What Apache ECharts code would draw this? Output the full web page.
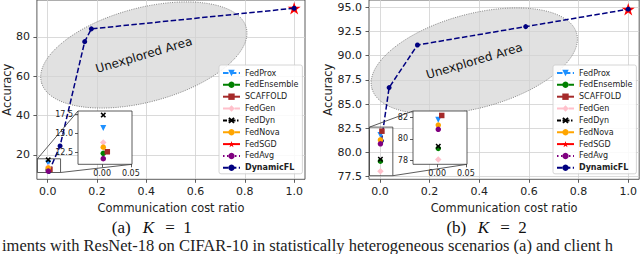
<!DOCTYPE html>
<html><head><meta charset="utf-8">
<script src="https://cdn.jsdelivr.net/npm/echarts@6/dist/echarts.min.js"></script>
<style>html,body{margin:0;padding:0;background:#fff;overflow:hidden}#c{width:640px;height:254px}</style>
</head><body><div id="c"></div>
<script>
// ---------- data ----------
const seriesNames = ['FedProx','FedEnsemble','SCAFFOLD','FedGen','FedDyn','FedNova','FedSGD','FedAvg','DynamicFL'];
const ticksX = [0, 0.2, 0.4, 0.6, 0.8, 1.0];
const ticksYA = [20, 40, 60, 80];
const ticksYB = [77.5, 80, 82.5, 85, 87.5, 90, 92.5, 95];
const insetTicksX = [0, 0.05];
const insetTicksYA = [12.5, 15, 17.5];
const insetTicksYB = [78, 80, 82];
// (a) K = 1
const fedProxA     = [[0.002, 15.7]];
const fedEnsembleA = [[0.002, 12.4]];
const scaffoldA    = [[0.009, 12.6]];
const fedGenA      = [[0.002, 13.8]];
const fedDynA      = [[0.002, 17.4]];
const fedNovaA     = [[0.002, 13.2]];
const fedSGDA      = [[1.0, 94.6]];
const fedAvgA      = [[0.002, 11.7]];
const dynamicFLA   = [[0.005, 11.5], [0.05, 24.5], [0.15, 77.6], [0.177, 84.1], [1.0, 94.6]];
// (b) K = 2
const fedProxB     = [[0.002, 81.8]];
const fedEnsembleB = [[0.002, 79.1]];
const scaffoldB    = [[0.008, 82.2]];
const fedGenB      = [[0.002, 78.05]];
const fedDynB      = [[0.002, 79.3]];
const fedNovaB     = [[0.002, 81.3]];
const fedSGDB      = [[1.0, 94.8]];
const fedAvgB      = [[0.002, 80.9]];
const dynamicFLB   = [[0.006, 81.2], [0.037, 86.7], [0.151, 91.1], [0.587, 93.0], [1.0, 94.8]];
// axis limits
const mainXRange = [-0.044, 1.044];
const yRangeA = [7.5, 98.8];
const yRangeB = [77.23, 95.75];
const insetXRange = [-0.042, 0.052];
const insetYRangeA = [10.96, 17.94];
const insetYRangeB = [77.6, 82.62];
// annotation anchors (data coords)
const ellipseCenterA = [0.39, 70.8];
const ellipseCenterB = [0.38, 89.45];
const areaLabel = 'Unexplored Area';
const xName = 'Communication cost ratio';
const yName = 'Accuracy';
const bottomText = 'iments with ResNet-18 on CIFAR-10 in statistically heterogeneous scenarios (a) and client h';

const dataA = {FedProx:fedProxA, FedEnsemble:fedEnsembleA, SCAFFOLD:scaffoldA, FedGen:fedGenA, FedDyn:fedDynA, FedNova:fedNovaA, FedSGD:fedSGDA, FedAvg:fedAvgA, DynamicFL:dynamicFLA};
const dataB = {FedProx:fedProxB, FedEnsemble:fedEnsembleB, SCAFFOLD:scaffoldB, FedGen:fedGenB, FedDyn:fedDynB, FedNova:fedNovaB, FedSGD:fedSGDB, FedAvg:fedAvgB, DynamicFL:dynamicFLB};

// ---------- styles ----------
const FONT = 'DejaVu Sans';
const X_SYM = 'path://M0,20 L20,0 L50,30 L80,0 L100,20 L70,50 L100,80 L80,100 L50,70 L20,100 L0,80 L30,50 Z';
const STAR_SYM = 'path://M100,0 L122.45,69.1 L195.1,69.1 L136.3,111.8 L158.8,180.9 L100,138.2 L41.2,180.9 L63.7,111.8 L4.9,69.1 L77.55,69.1 Z';
const look = {
  FedProx:     {color:'#1E90FF', symbol:'triangle', rotate:180, size:6,   type:[5.5,2.4]},
  FedEnsemble: {color:'#008000', symbol:'circle',   size:5.5, type:[6,2,1.5,2]},
  SCAFFOLD:    {color:'#A52A2A', symbol:'rect',     size:5.5, type:'solid'},
  FedGen:      {color:'#FFC0CB', symbol:'diamond',  size:6.5, type:[6,2,1.5,2]},
  FedDyn:      {color:'#000000', symbol:X_SYM,      size:5.5, type:[4,1.5,1.5,1.5]},
  FedNova:     {color:'#FFA500', symbol:'circle',   size:5.5, type:[6,2,1.5,2]},
  FedSGD:      {color:'#FF0000', symbol:STAR_SYM,   size:13,  type:'solid'},
  FedAvg:      {color:'#800080', symbol:'circle',   size:5.5, type:[1.5,2.5]},
  DynamicFL:   {color:'#000080', symbol:'circle',   size:5,   type:[5.5,2.4]}
};

function mk(name, data, gi, z){
  const s = look[name];
  return {type:'line', name, data, xAxisIndex:gi, yAxisIndex:gi, z,
    symbol:s.symbol, symbolSize:s.size, symbolRotate:s.rotate||0, symbolKeepAspect:true,
    showAllSymbol:true, silent:true, animation:false, clip:true,
    lineStyle:{color:s.color, width:1.5, type:s.type},
    itemStyle:{color:s.color, borderWidth:0},
    emphasis:{disabled:true}};
}

function mainX(gi){
  return {gridIndex:gi, type:'value', min:mainXRange[0], max:mainXRange[1],
    name:xName, nameLocation:'middle', nameGap:19.3,
    nameTextStyle:{fontFamily:FONT, fontSize:11.4, color:'#222'},
    axisLine:{show:false, onZero:false},
    axisTick:{show:true, inside:false, length:3.5, lineStyle:{color:'#333', width:0.8}, customValues:ticksX},
    axisLabel:{customValues:ticksX, formatter:v=>v.toFixed(1), fontFamily:FONT, fontSize:11, color:'#222', margin:7},
    splitLine:{show:true, lineStyle:{color:'#d0d0d0', width:0.8}}};
}
function mainY(gi, range, ticks, dec, gap){
  return {gridIndex:gi, type:'value', min:range[0], max:range[1],
    name:yName, nameLocation:'middle', nameGap:gap,
    nameTextStyle:{fontFamily:FONT, fontSize:11.4, color:'#222'},
    axisLine:{show:false, onZero:false},
    axisTick:{show:true, inside:false, length:3.5, lineStyle:{color:'#333', width:0.8}, customValues:ticks},
    axisLabel:{customValues:ticks, formatter:v=>v.toFixed(dec), fontFamily:FONT, fontSize:11, color:'#222', margin:7},
    splitLine:{show:true, lineStyle:{color:'#d0d0d0', width:0.8}}};
}
function insetAxis(gi, range, ticks, dec){
  return {gridIndex:gi, type:'value', min:range[0], max:range[1], z:6,
    axisLine:{show:false, onZero:false},
    axisTick:{show:true, inside:false, length:3, lineStyle:{color:'#333', width:0.8}, customValues:ticks},
    axisLabel:{customValues:ticks, formatter:v=>v.toFixed(dec), fontFamily:FONT, fontSize:8, color:'#222', margin:5},
    splitLine:{show:false}};
}

const legendData = seriesNames.map(n => n === 'DynamicFL' ? {name:n, textStyle:{fontWeight:'bold'}} : {name:n});
function legend(left){
  return {data:legendData, left, top:65, orient:'vertical', z:10, selectedMode:false,
    itemWidth:17, itemHeight:8, itemGap:1.85, padding:[3,4,1,3],
    backgroundColor:'rgba(255,255,255,0.85)', borderColor:'#cccccc', borderWidth:0.8, borderRadius:2,
    textStyle:{fontFamily:FONT, fontSize:8, color:'#222', lineHeight:10}};
}

const series = [];
[[dataA,0,1],[dataB,2,3]].forEach(([d, gm, gi]) => {
  series.push(mk('FedSGD', d.FedSGD, gm, 2));
  series.push(mk('DynamicFL', d.DynamicFL, gm, 3));
  seriesNames.forEach(n => { if (n !== 'FedSGD' && n !== 'DynamicFL') series.push(mk(n, d[n], gm, 4)); });
  seriesNames.forEach(n => { if (n !== 'FedSGD' && n !== 'DynamicFL') series.push(mk(n, d[n], gi, 7)); });
});

const option = {
  animation:false,
  backgroundColor:'#ffffff',
  grid:[
    {left:34, top:0, width:271, height:179.3, show:true, borderColor:'#333', borderWidth:0.8, z:0},
    {left:78, top:111, width:54, height:53.3, show:true, backgroundColor:'#ffffff', borderColor:'#333', borderWidth:0.8, z:5},
    {left:369, top:0, width:272, height:179.3, show:true, borderColor:'#333', borderWidth:0.8, z:0},
    {left:413, top:111, width:54, height:53.3, show:true, backgroundColor:'#ffffff', borderColor:'#333', borderWidth:0.8, z:5}
  ],
  xAxis:[ mainX(0), insetAxis(1, insetXRange, insetTicksX, 2), mainX(2), insetAxis(3, insetXRange, insetTicksX, 2) ],
  yAxis:[ mainY(0, yRangeA, ticksYA, 0, 22), insetAxis(1, insetYRangeA, insetTicksYA, 1),
          mainY(2, yRangeB, ticksYB, 1, 36), insetAxis(3, insetYRangeB, insetTicksYB, 0) ],
  legend:[ legend(219), legend(553) ],
  series
};

const chart = echarts.init(document.getElementById('c'), null, {renderer:'svg', width:640, height:254});
chart.setOption(option);

const g = [];
const ELL_ROT = 15 * Math.PI / 180;
const TXT_ROT = 16.5 * Math.PI / 180;
function decorate(gMain, gInset, center, iyRange){
  const c = chart.convertToPixel({gridIndex:gMain}, center);
  g.push({type:'ellipse', x:c[0], y:c[1], rotation:ELL_ROT, z:1, silent:true,
    shape:{cx:0, cy:0, rx:106, ry:47},
    style:{fill:'rgba(211,211,211,0.68)', stroke:'#666', lineWidth:0.7, lineDash:[1,1.3]}});
  g.push({type:'text', x:c[0], y:c[1], rotation:TXT_ROT, z:1, silent:true,
    style:{text:areaLabel, fontFamily:FONT, fontSize:12, fill:'#111', align:'center', verticalAlign:'middle'}});
  const p1 = chart.convertToPixel({gridIndex:gMain}, [insetXRange[0], iyRange[1]]);
  const p2 = chart.convertToPixel({gridIndex:gMain}, [insetXRange[1], iyRange[0]]);
  const q1 = chart.convertToPixel({gridIndex:gInset}, [insetXRange[0], iyRange[1]]);
  const q2 = chart.convertToPixel({gridIndex:gInset}, [insetXRange[1], iyRange[0]]);
  g.push({type:'rect', z:4, silent:true, shape:{x:p1[0], y:p1[1], width:p2[0]-p1[0], height:p2[1]-p1[1]},
    style:{fill:'none', stroke:'#333', lineWidth:0.8}});
  g.push({type:'line', z:4, silent:true, shape:{x1:p1[0], y1:p1[1], x2:q1[0], y2:q1[1]}, style:{stroke:'#333', lineWidth:0.8}});
  g.push({type:'line', z:4, silent:true, shape:{x1:p2[0], y1:p2[1], x2:q2[0], y2:q2[1]}, style:{stroke:'#333', lineWidth:0.8}});
}
decorate(0, 1, ellipseCenterA, insetYRangeA);
decorate(2, 3, ellipseCenterB, insetYRangeB);

function caption(label, num, dx){
  const serif = 'Liberation Serif';
  const y = 227;
  const st = (t, extra) => Object.assign({text:t, fontFamily:serif, fontSize:17, lineHeight:15, fill:'#111', align:'center', verticalAlign:'middle'}, extra||{});
  g.push({type:'text', x:121.3+dx, y, z:5, style:st(label)});
  g.push({type:'text', x:148.3+dx, y, z:5, style:st('K', {fontStyle:'italic'})});
  g.push({type:'text', x:170+dx, y, z:5, style:st('=')});
  g.push({type:'text', x:187.5+dx, y, z:5, style:st(num)});
}
caption('(a)', '1', 0);
caption('(b)', '2', 335);

const cv = document.createElement('canvas').getContext('2d');
cv.font = '14px "Liberation Serif"';
const bw = cv.measureText(bottomText).width || 560;
const bfs = Math.min(16.5, 14 * 628 / bw);
g.push({type:'text', x:2, y:253.5, z:5, style:{text:bottomText, fontFamily:'Liberation Serif', fontSize:bfs, lineHeight:17, fill:'#222', align:'left', verticalAlign:'bottom'}});

chart.setOption({graphic:g});
</script></body></html>
